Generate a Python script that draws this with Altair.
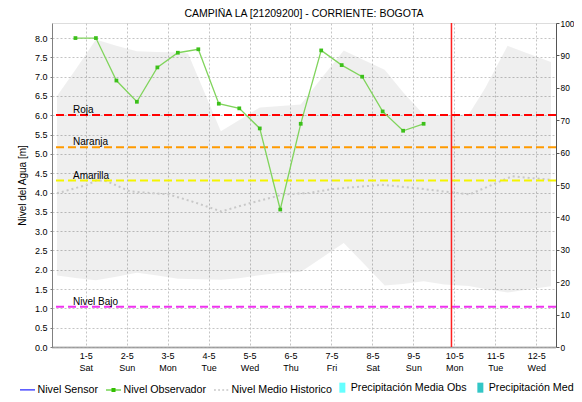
import altair as alt
import pandas as pd

# ---------------- data ----------------
tick_days = list(range(12))
tick_dates = ["1-5", "2-5", "3-5", "4-5", "5-5", "6-5", "7-5", "8-5", "9-5", "10-5", "11-5", "12-5"]
tick_weekdays = ["Sat", "Sun", "Mon", "Tue", "Wed", "Thu", "Fri", "Sat", "Sun", "Mon", "Tue", "Wed"]

obs_day = [-0.25, 0.25, 0.75, 1.25, 1.75, 2.25, 2.75, 3.25, 3.75, 4.25,
           4.75, 5.25, 5.75, 6.25, 6.75, 7.25, 7.75, 8.25]
obs_level = [8.00, 8.00, 6.90, 6.35, 7.24, 7.62, 7.71, 6.30, 6.18, 5.66,
             3.56, 5.78, 7.68, 7.30, 7.00, 6.10, 5.60, 5.78]

band_day = [-0.70, -0.25, 0.25, 0.75, 1.25, 1.75, 2.25, 2.50, 3.30, 3.75, 4.25, 4.75,
            5.25, 5.75, 6.30, 6.75, 7.30, 7.75, 8.25, 8.75, 9.35, 9.75, 10.30, 10.75, 11.36]
band_max = [6.50, 7.18, 7.96, 7.80, 7.66, 7.64, 7.63, 7.60, 5.59, 5.88, 6.20, 6.24,
            6.28, 6.95, 7.68, 7.45, 7.18, 6.60, 6.02, 6.00, 6.02, 6.70, 7.80, 7.62, 7.38]
band_min = [1.85, 1.79, 1.73, 1.82, 1.92, 1.85, 1.77, 1.76, 1.74, 1.78, 1.86, 1.92,
            1.94, 2.30, 2.69, 2.20, 1.59, 1.63, 1.70, 1.62, 1.58, 1.50, 1.41, 1.48, 1.57]

mean_day = [-0.70, 0.04, 0.27, 0.52, 1.08, 2.03, 2.59, 3.31, 4.03, 4.82, 5.46,
            6.02, 7.22, 8.01, 9.05, 9.37, 10.41, 11.36]
mean_level = [3.98, 4.20, 4.32, 4.29, 4.03, 3.95, 3.77, 3.51, 3.73, 3.95, 3.99,
              4.09, 4.20, 4.12, 3.99, 3.95, 4.42, 4.33]

thr_names = ["Roja", "Naranja", "Amarilla", "Nivel Bajo"]
thr_values = [6.01, 5.17, 4.31, 1.04]
thr_colors = ["#ff0000", "#ff9a00", "#f4f400", "#f032f0"]

now_day = [8.93]

precip_day = []
precip_value = []

line_series = ["Nivel Sensor", "Nivel Observador", "Nivel Medio Historico"]
line_colors = ["#0000ff", "#33c000", "#c8c8c8"]
line_shapes = [
    "M-1,-0.07H1V0.07H-1Z",
    "M-1,-0.07H1V0.07H-1Z M-0.27,-0.27H0.27V0.27H-0.27Z",
    "M-1,-0.1H-0.75V0.1H-1Z M-0.45,-0.1H-0.2V0.1H-0.45Z M0.1,-0.1H0.35V0.1H0.1Z M0.65,-0.1H0.9V0.1H0.65Z",
]
bar_series = ["Precipitación Media Obs", "Precipitación Media Pronóstico"]
bar_colors = ["#66ffff", "#33c6c6"]

# ---------------- frames ----------------
obs_df = pd.DataFrame({"day": obs_day, "level": obs_level})
band_df = pd.DataFrame({"day": band_day, "max": band_max, "min": band_min})
mean_df = pd.DataFrame({"day": mean_day, "level": mean_level})
thr_df = pd.DataFrame({"name": thr_names, "value": thr_values, "color": thr_colors})
now_df = pd.DataFrame({"day": now_day})
precip_df = pd.DataFrame({"day": pd.Series(precip_day, dtype=float),
                          "precip": pd.Series(precip_value, dtype=float)})
leg1_df = pd.DataFrame({"series": line_series, "day": [None] * 3, "level": [None] * 3})
leg2_df = pd.DataFrame({"series2": bar_series, "day": [None] * 2, "level": [None] * 2})

FONT = "Liberation Sans"
XDOM = [-0.70, 11.36]
YDOM = [0, 8.39]

parts = []
for i, (d, w) in enumerate(zip(tick_dates, tick_weekdays)):
    parts.append("round(datum.value) == %d ? ['%s', '%s'] : " % (tick_days[i], d, w))
label_expr = "".join(parts) + "''"

x_axis = alt.Axis(values=tick_days, labelExpr=label_expr, title=None, grid=True,
                  gridColor="#c4c4c4", gridDash=[2, 2], gridWidth=1,
                  domainColor="#707070", domainWidth=2, domainDash=[1, 1],
                  ticks=False, labelPadding=4, labelFont=FONT, labelFontSize=9,
                  labelColor="#000000", labelLineHeight=12, labelOverlap=False)
x_enc = alt.X("day:Q", scale=alt.Scale(domain=XDOM, nice=False, zero=False), axis=x_axis)

y_axis = alt.Axis(values=[i * 0.5 for i in range(17)], format=".1f", title="Nivel del Agua [m]",
                  titleFont=FONT, titleFontSize=10, titleFontWeight="normal", titleColor="#000000",
                  titlePadding=7, grid=True, gridColor="#c4c4c4", gridDash=[2, 2], gridWidth=1,
                  domainColor="#808080", tickColor="#808080", tickSize=2, labelPadding=3,
                  labelFont=FONT, labelFontSize=9, labelColor="#000000", labelOverlap=False)
y_scale = alt.Scale(domain=YDOM, nice=False, zero=False)


def Y(field):
    return alt.Y(field, scale=y_scale, axis=y_axis)


band = alt.Chart(band_df).mark_area(color="#000000", opacity=0.063).encode(
    x=x_enc, y=Y("max:Q"), y2="min:Q",
)

mean_line = alt.Chart(mean_df).mark_line(color="#c8c8c8", strokeWidth=2, strokeDash=[2, 3]).encode(
    x=x_enc, y=Y("level:Q")
)

thr_rules = alt.Chart(thr_df).mark_rule(strokeWidth=2, strokeDash=[8, 4]).encode(
    y=Y("value:Q"),
    color=alt.Color("color:N", scale=None),
)

thr_text = alt.Chart(thr_df).mark_text(align="left", baseline="alphabetic", dy=-2,
                                       font=FONT, fontSize=10, color="#000000").encode(
    x=alt.value(21),
    y=Y("value:Q"),
    text="name:N",
)

obs_line = alt.Chart(obs_df).mark_line(color="#80d45c", strokeWidth=1.3).encode(
    x=x_enc, y=Y("level:Q")
)
obs_pts = alt.Chart(obs_df).mark_point(shape="square", filled=True, size=14, color="#3cc01a",
                                       opacity=1).encode(
    x=x_enc, y=Y("level:Q")
)

now_rule = alt.Chart(now_df).mark_rule(stroke="#ff2020", strokeWidth=1.5, opacity=1).encode(x=x_enc)

leg_common = dict(title=None, orient="none", direction="horizontal", labelFont=FONT,
                  labelFontSize=10.7, labelColor="#000000", labelLimit=300,
                  symbolStrokeWidth=0)

leg1 = alt.Legend(legendX=-32, legendY=359, symbolSize=225, labelOffset=2.5, columnPadding=7,
                  **leg_common)
legend_lines = alt.Chart(leg1_df).mark_point(filled=True, opacity=1).encode(
    x=x_enc,
    y=Y("level:Q"),
    color=alt.Color("series:N", scale=alt.Scale(domain=line_series, range=line_colors), legend=leg1),
    shape=alt.Shape("series:N", scale=alt.Scale(domain=line_series, range=line_shapes), legend=leg1),
)

SQ = "M-1,-1.67H1V1.67H-1Z"
leg2 = alt.Legend(legendX=285, legendY=359, symbolSize=36, symbolType=SQ, labelOffset=3,
                  columnPadding=8, **leg_common)
legend_bars = alt.Chart(leg2_df).mark_point(filled=True, opacity=1, shape=SQ).encode(
    x=x_enc,
    y=Y("level:Q"),
    fill=alt.Fill("series2:N", scale=alt.Scale(domain=bar_series, range=bar_colors), legend=leg2),
)

left = alt.layer(band, mean_line, thr_rules, thr_text, obs_line, obs_pts, now_rule,
                 legend_lines, legend_bars)

right = alt.Chart(precip_df).mark_bar(color="#66ffff").encode(
    x=x_enc,
    y=alt.Y("precip:Q", scale=alt.Scale(domain=[0, 100], nice=False),
            axis=alt.Axis(orient="right", values=list(range(0, 101, 10)), title=None, grid=False,
                          domainColor="#555555", tickColor="#555555", tickSize=3, labelPadding=1,
                          labelFont=FONT, labelFontSize=8.4, labelColor="#000000")),
)

chart = alt.layer(left, right).resolve_scale(y="independent").properties(
    width=504,
    height=324,
    autosize=alt.AutoSizeParams(type="none"),
    padding={"left": 44, "top": 15, "right": 18, "bottom": 47},
    title=alt.TitleParams("CAMPIÑA LA [21209200] - CORRIENTE: BOGOTA", font=FONT, fontSize=10.5,
                          fontWeight="normal", color="#000000", offset=2, dy=2, anchor="middle"),
).configure_view(stroke="#808080", strokeWidth=1).configure(background="#ffffff")

chart.save("out.html", embed_options={"renderer": "svg", "actions": False})
